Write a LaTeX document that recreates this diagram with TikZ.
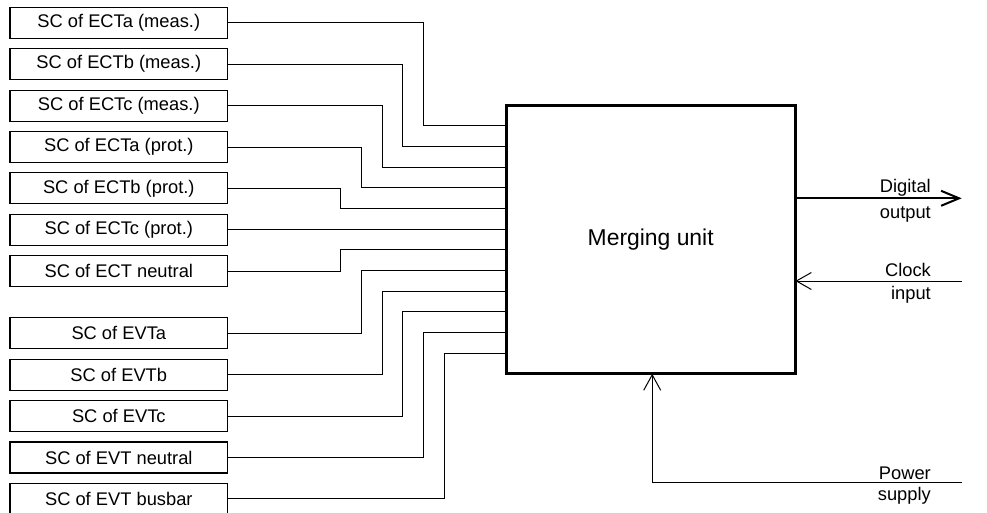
\documentclass[tikz,border=0pt]{standalone}
\usepackage{fontspec}
\setmainfont{Liberation Sans}
\usepackage{tikz}
\usetikzlibrary{calc, arrows.meta}

\tikzset{
  scbox/.style={draw, line width=1.1pt, minimum width=217.7pt, minimum height=31pt,
    inner sep=0pt, font=\fontsize{18.3}{22}\selectfont},
  iolabel/.style={anchor=base east, align=right, inner sep=0pt},
  wire/.style={line width=1pt}
}

\begin{document}
\begin{tikzpicture}[x=1pt, y=-1pt]
  \useasboundingbox (0,0) rectangle (987,512);

  % sensor boxes
  \node[scbox] (ectam) at (118.8,22.8) {SC of ECTa (meas.)};
  \node[scbox] (ectbm) at (118.8,64.2) {SC of ECTb (meas.)};
  \node[scbox] (ectcm) at (118.8,105.6) {SC of ECTc (meas.)};
  \node[scbox] (ectap) at (118.8,147.0) {SC of ECTa (prot.)};
  \node[scbox] (ectbp) at (118.8,188.4) {SC of ECTb (prot.)};
  \node[scbox] (ectcp) at (118.8,229.8) {SC of ECTc (prot.)};
  \node[scbox] (ectn) at (118.8,271.4) {SC of ECT neutral};
  \node[scbox] (evta) at (118.8,333.3) {SC of EVTa};
  \node[scbox] (evtb) at (118.8,374.7) {SC of EVTb};
  \node[scbox] (evtc) at (118.8,416.1) {SC of EVTc};
  \node[scbox] (evtn) at (118.8,457.5) {SC of EVT neutral};
  \node[scbox] (evtbus) at (118.8,498.9) {SC of EVT busbar};

  % merging unit
  \node[draw, line width=3pt, outer sep=0pt, minimum width=289.3pt, minimum height=268.5pt,
    font=\fontsize{22.9}{27}\selectfont] (mu) at (650.7,239.5) {Merging unit};

  \foreach \k in {1,...,12}
    \coordinate (in\k) at ($(mu.north west)!\k/13!(mu.south west)$);

  % inputs
  \foreach \src/\k/\jx in {ectam/1/423.6, ectbm/2/402.9, ectcm/3/382.2, ectap/4/361.5,
      ectbp/5/340.8, ectn/7/340.8, evta/8/361.5, evtb/9/382.2, evtc/10/402.9,
      evtn/11/423.6, evtbus/12/444.3}
    \draw[wire] (\src.east) -| (\jx,0 |- in\k) -- (in\k);
  \draw[wire] (ectcp.east) -- (ectcp.east -| mu.west);

  % outputs and supplies
  \coordinate (dout) at (961.7,198.3);
  \coordinate (cin) at (961.7,281);
  \coordinate (pin) at (961.7,482.7);
  \draw[line width=2pt, -{Straight Barb[length=18pt, width=15pt]}] (mu.east |- dout) -- (dout);
  \draw[wire, -{Straight Barb[length=15pt, width=17pt]}] (cin) -- (cin -| mu.east);
  \draw[wire, -{Straight Barb[length=15.5pt, width=17pt]}] (pin) -| ([xshift=1.5pt]mu.south);

  \node[iolabel, font=\fontsize{18.3}{25.6}\selectfont] (doutlbl) at (931,218.3) {Digital\\output};
  \node[iolabel, font=\fontsize{18.3}{22.6}\selectfont] (cinlbl) at (931,299.3) {Clock\\input};
  \node[iolabel, font=\fontsize{18.3}{21.7}\selectfont] (pinlbl) at (931,500.7) {Power\\supply};
\end{tikzpicture}
\end{document}
